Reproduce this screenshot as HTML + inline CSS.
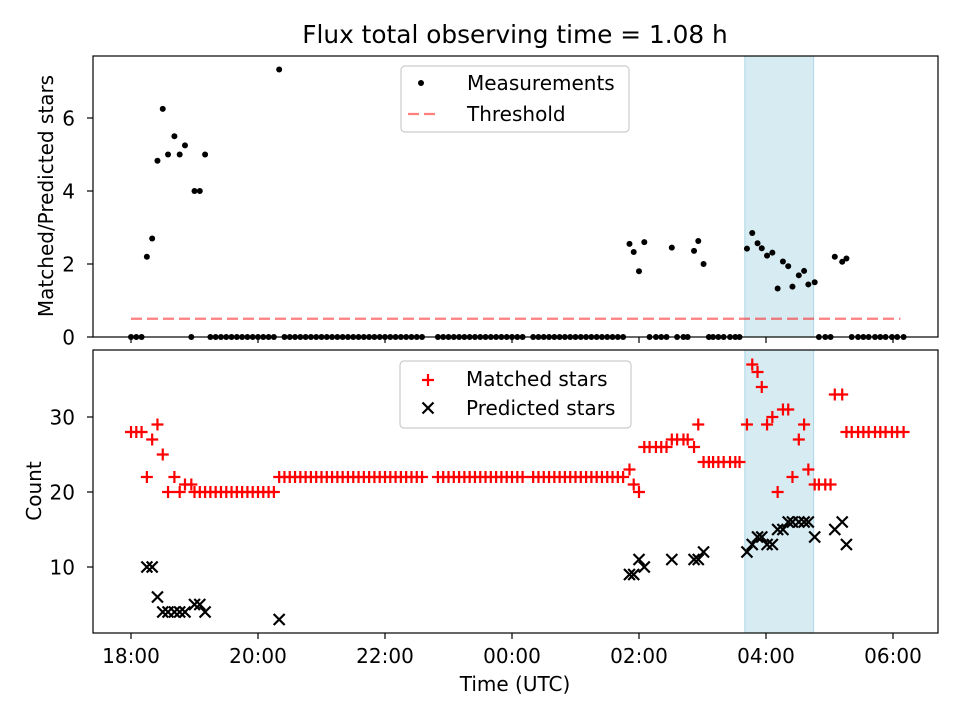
<!DOCTYPE html>
<html><head><meta charset="utf-8"><style>
body{margin:0;background:#fff}
svg{display:block;font-family:"DejaVu Sans","Liberation Sans",sans-serif}
</style></head><body>
<svg id="chart" width="960" height="720" viewBox="0 0 960 720">
<rect width="960" height="720" fill="#fff"/>
<g id="topPanel"></g>
<g id="botPanel"></g>
</svg>
<script>
// time in minutes since 18:00 UTC
const times = [0,5,10,15,20,25,30,35,41,46,51,57,
60,65,70,75,80,85,90,95,100,105,110,115,120,125,130,135,
140,145,150,155,160,165,170,175,180,185,190,195,200,205,210,215,220,225,230,235,240,245,250,255,260,265,270,275,
290,295,300,305,310,315,320,325,330,335,340,345,350,355,360,365,370,
380,385,390,395,400,405,410,415,420,425,430,435,440,445,450,455,460,465,
471,475,480,485,490,496,501,506,511,516,522,526,532,536,541,546,550,555,560,566,571,575,
582,587,592,596,601,606,611,616,621,625,631,636,640,646,
650,656,661,665,672,676,681,687,692,697,703,708,713,719,724,730];
const matched = [28,28,28,22,27,29,25,20,22,20,21,21,
20,20,20,20,20,20,20,20,20,20,20,20,20,20,20,20,
22,22,22,22,22,22,22,22,22,22,22,22,22,22,22,22,22,22,22,22,22,22,22,22,22,22,22,22,
22,22,22,22,22,22,22,22,22,22,22,22,22,22,22,22,22,
22,22,22,22,22,22,22,22,22,22,22,22,22,22,22,22,22,22,
23,21,20,26,26,26,26,26,27,27,27,27,26,29,24,24,24,24,24,24,24,24,
29,37,36,34,29,30,20,31,31,22,27,29,23,21,
21,21,21,33,33,28,28,28,28,28,28,28,28,28,28,28];
const predicted = [null,null,null,10,10,6,4,4,4,4,4,null,
5,5,4,null,null,null,null,null,null,null,null,null,null,null,null,null,
3,null,null,null,null,null,null,null,null,null,null,null,null,null,null,null,null,null,null,null,null,null,null,null,null,null,null,null,
null,null,null,null,null,null,null,null,null,null,null,null,null,null,null,null,null,
null,null,null,null,null,null,null,null,null,null,null,null,null,null,null,null,null,null,
9,9,11,10,null,null,null,null,11,null,null,null,11,11,12,null,null,null,null,null,null,null,
12,13,14,14,13,13,15,15,16,16,16,16,16,14,
null,null,null,15,16,13,null,null,null,null,null,null,null,null,null,null];
const ratio = [0,0,0,2.2,2.7,4.83,6.25,5,5.5,5,5.25,0,
4,4,5,0,0,0,0,0,0,0,0,0,0,0,0,0,
7.33,0,0,0,0,0,0,0,0,0,0,0,0,0,0,0,0,0,0,0,0,0,0,0,0,0,0,0,
0,0,0,0,0,0,0,0,0,0,0,0,0,0,0,0,0,
0,0,0,0,0,0,0,0,0,0,0,0,0,0,0,0,0,0,
2.55,2.33,1.8,2.6,0,0,0,0,2.45,0,0,0,2.36,2.63,2,0,0,0,0,0,0,0,
2.42,2.85,2.57,2.43,2.23,2.31,1.33,2.07,1.94,1.38,1.69,1.81,1.44,1.5,
0,0,0,2.2,2.06,2.15,0,0,0,0,0,0,0,0,0,0];
const threshold = 0.5;
const thresholdRange = [0, 727];
const spanRange = [580, 645];
const xTickMins = [0,120,240,360,480,600,720];
const xTickLabels = ["18:00","20:00","22:00","00:00","02:00","04:00","06:00"];
const topTicks = [0,2,4,6];
const botTicks = [10,20,30];

const NS="http://www.w3.org/2000/svg";
const L=93,R=938,T1=56,B1=337,T2=350,B2=633;
const FS=20;
const xs=m=>131+m*63.5/60;
const y1=v=>337-v*36.5;
const y2=v=>567-(v-10)*7.5;
function mk(parent,tag,attrs,text){const e=document.createElementNS(NS,tag);for(const k in attrs)e.setAttribute(k,attrs[k]);if(text!==undefined)e.textContent=text;parent.appendChild(e);return e;}
const topG=document.getElementById('topPanel'), botG=document.getElementById('botPanel'), svgEl=document.getElementById('chart');

let s=mk(topG,'rect',{x:xs(spanRange[0]),y:T1,width:xs(spanRange[1])-xs(spanRange[0]),height:B1-T1,fill:'#add8e6','fill-opacity':0.5,stroke:'#add8e6'});


s=mk(botG,'rect',{x:xs(spanRange[0]),y:T2,width:xs(spanRange[1])-xs(spanRange[0]),height:B2-T2,fill:'#add8e6','fill-opacity':0.5,stroke:'#add8e6'});



let th=mk(topG,'line',{x1:xs(thresholdRange[0]),x2:xs(thresholdRange[1]),y1:y1(threshold),y2:y1(threshold),stroke:'#ff0000','stroke-opacity':0.5,'stroke-width':2.2,'stroke-dasharray':'11,5'});



for(let i=0;i<times.length;i++){
  if(ratio[i]===null)continue;
  const c=mk(topG,'circle',{cx:xs(times[i]),cy:y1(ratio[i]),r:3,fill:'#000'});
  
  
}
for(let i=0;i<times.length;i++){
  if(matched[i]===null)continue;
  const x=xs(times[i]),y=y2(matched[i]);
  const p=mk(botG,'path',{d:`M${x-6},${y}H${x+6}M${x},${y-6}V${y+6}`,stroke:'#ff0000','stroke-width':2.2});
  
  
}
for(let i=0;i<times.length;i++){
  if(predicted[i]===null)continue;
  const x=xs(times[i]),y=y2(predicted[i]);
  const p=mk(botG,'path',{d:`M${x-5.5},${y-5.5}L${x+5.5},${y+5.5}M${x-5.5},${y+5.5}L${x+5.5},${y-5.5}`,stroke:'#000','stroke-width':2.2});
  
  
}

let f=mk(topG,'rect',{x:L,y:T1,width:R-L,height:B1-T1,fill:'none',stroke:'#000','stroke-width':1.2});


f=mk(botG,'rect',{x:L,y:T2,width:R-L,height:B2-T2,fill:'none',stroke:'#000','stroke-width':1.2});



for(let i=0;i<xTickMins.length;i++){
  const x=xs(xTickMins[i]);
  let t=mk(topG,'line',{x1:x,x2:x,y1:B1,y2:B1+6,stroke:'#000','stroke-width':1.2});
  
  
  t=mk(botG,'line',{x1:x,x2:x,y1:B2,y2:B2+6,stroke:'#000','stroke-width':1.2});
  
  
  t=mk(botG,'text',{x:x,y:663,'text-anchor':'middle','font-size':FS,fill:'#000'},xTickLabels[i]);
  
  
}
for(const v of topTicks){
  let t=mk(topG,'line',{x1:L-6,x2:L,y1:y1(v),y2:y1(v),stroke:'#000','stroke-width':1.2});
  
  
  t=mk(topG,'text',{x:75,y:y1(v)+7.5,'text-anchor':'end','font-size':FS},String(v));
  
  
}
for(const v of botTicks){
  let t=mk(botG,'line',{x1:L-6,x2:L,y1:y2(v),y2:y2(v),stroke:'#000','stroke-width':1.2});
  
  
  t=mk(botG,'text',{x:75,y:y2(v)+7.5,'text-anchor':'end','font-size':FS},String(v));
  
  
}

let lb=mk(svgEl,'text',{x:515,y:43,'text-anchor':'middle','font-size':24.8},'Flux total observing time = 1.08 h');


lb=mk(svgEl,'text',{x:515,y:691,'text-anchor':'middle','font-size':FS},'Time (UTC)');


lb=mk(svgEl,'text',{x:0,y:0,'text-anchor':'middle','font-size':FS,transform:'translate(53,196) rotate(-90)'},'Matched/Predicted stars');


lb=mk(svgEl,'text',{x:0,y:0,'text-anchor':'middle','font-size':FS,transform:'translate(41,491) rotate(-90)'},'Count');



let lg=mk(svgEl,'g',{});


mk(lg,'rect',{x:401,y:66,width:228,height:66,rx:4,fill:'#fff','fill-opacity':0.8,stroke:'#ccc','stroke-width':1.2});
mk(lg,'circle',{cx:421,cy:83,r:3,fill:'#000'});
mk(lg,'text',{x:467,y:90,'font-size':FS},'Measurements');
mk(lg,'line',{x1:408,x2:436,y1:114,y2:114,stroke:'#ff0000','stroke-opacity':0.5,'stroke-width':2.2,'stroke-dasharray':'11,5'});
mk(lg,'text',{x:467,y:121,'font-size':FS},'Threshold');

lg=mk(svgEl,'g',{});


mk(lg,'rect',{x:400,y:361,width:231,height:67,rx:4,fill:'#fff','fill-opacity':0.8,stroke:'#ccc','stroke-width':1.2});
mk(lg,'path',{d:'M422,380H434M428,374V386',stroke:'#ff0000','stroke-width':2.2});
mk(lg,'text',{x:466,y:386,'font-size':FS},'Matched stars');
mk(lg,'path',{d:'M422.5,402.5L433.5,413.5M422.5,413.5L433.5,402.5',stroke:'#000','stroke-width':2.2});
mk(lg,'text',{x:466,y:415,'font-size':FS},'Predicted stars');
</script>
</body></html>
